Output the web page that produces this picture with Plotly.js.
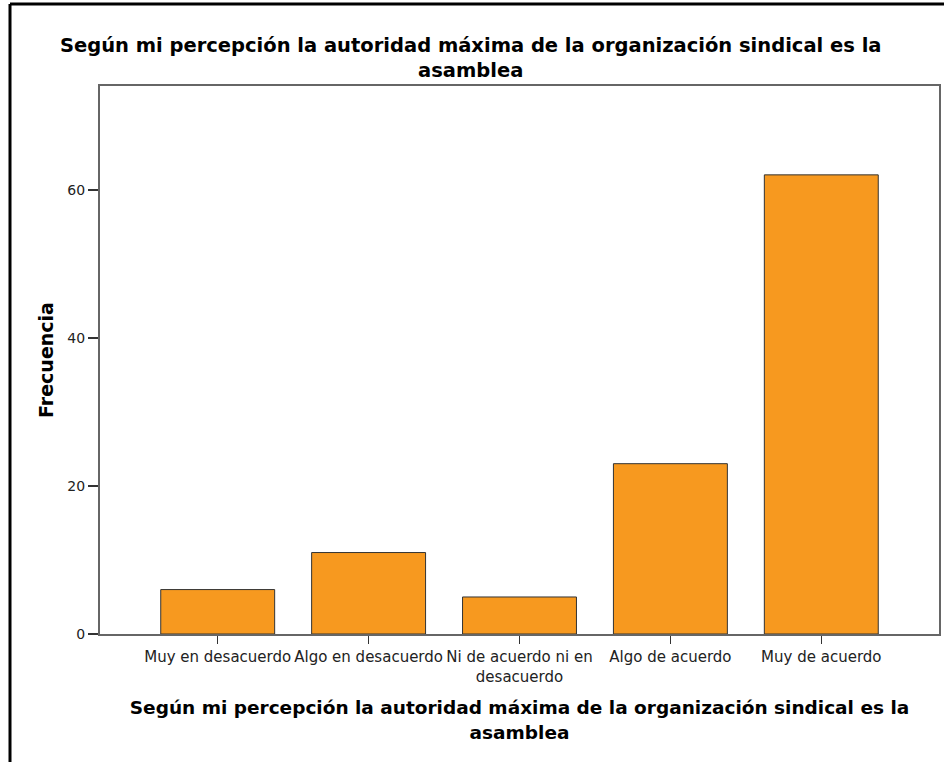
<!DOCTYPE html>
<html>
<head>
<meta charset="utf-8">
<script src="https://cdn.plot.ly/plotly-3.0.1.min.js"></script>
<style>html,body{margin:0;padding:0;background:#fff;}#chart{width:949px;height:762px;}</style>
</head>
<body>
<div id="chart"></div>
<script>
const categories = ["Muy en desacuerdo", "Algo en desacuerdo", "Ni de acuerdo ni en<br>desacuerdo", "Algo de acuerdo", "Muy de acuerdo"];
const frequencies = [6, 11, 5, 23, 62];
const yTickValues = [0, 20, 40, 60];
const chartTitle = "Según mi percepción la autoridad máxima de la organización sindical es la<br>asamblea";
const xAxisTitle = "Según mi percepción la autoridad máxima de la organización sindical es la<br>asamblea";
const yAxisTitle = "Frecuencia";

const font = "DejaVu Sans, Verdana, sans-serif";

const trace = {
  type: "bar",
  x: categories,
  y: frequencies,
  marker: { color: "#F7991F", line: { color: "#333333", width: 1 } },
  hoverinfo: "x+y"
};

const layout = {
  width: 949,
  height: 762,
  margin: { l: 100, r: 10, t: 86, b: 128 },
  paper_bgcolor: "#ffffff",
  plot_bgcolor: "#ffffff",
  bargap: 0.245,
  showlegend: false,
  font: { family: font, color: "#111" },
  title: {
    text: chartTitle,
    font: { family: font, size: 19.5, color: "#000", weight: "bold" },
    x: 0.496, xref: "container", xanchor: "center",
    y: 1 - 52 / 762, yref: "container", yanchor: "top"
  },
  xaxis: {
    type: "category",
    range: [-0.78, 4.78],
    showline: true, linecolor: "#666", linewidth: 2, mirror: true,
    ticks: "outside", ticklen: 8, tickwidth: 1, tickcolor: "#333",
    tickfont: { family: font, size: 15, color: "#222" },
    showgrid: false, zeroline: false,
    title: { text: xAxisTitle, font: { family: font, size: 18.5, color: "#000", weight: "bold" }, standoff: 17 }
  },
  yaxis: {
    range: [0, 74],
    tickvals: yTickValues,
    showline: true, linecolor: "#666", linewidth: 2, mirror: true,
    ticks: "outside", ticklen: 10, tickwidth: 2, tickcolor: "#333",
    tickfont: { family: font, size: 14, color: "#222" },
    showgrid: false, zeroline: false,
    title: { text: yAxisTitle, font: { family: font, size: 19, color: "#000", weight: "bold" }, standoff: 9 }
  },
  shapes: [
    { type: "line", xref: "paper", yref: "paper", x0: (10 - 100) / 839, x1: (944 - 100) / 839, y0: (634 - 4) / 548, y1: (634 - 4) / 548, line: { color: "#000", width: 3 } },
    { type: "line", xref: "paper", yref: "paper", x0: (10 - 100) / 839, x1: (10 - 100) / 839, y0: (634 - 4) / 548, y1: (634 - 770) / 548, line: { color: "#000", width: 3 } }
  ]
};

Plotly.newPlot("chart", [trace], layout, { displayModeBar: false, staticPlot: true });
</script>
</body>
</html>
